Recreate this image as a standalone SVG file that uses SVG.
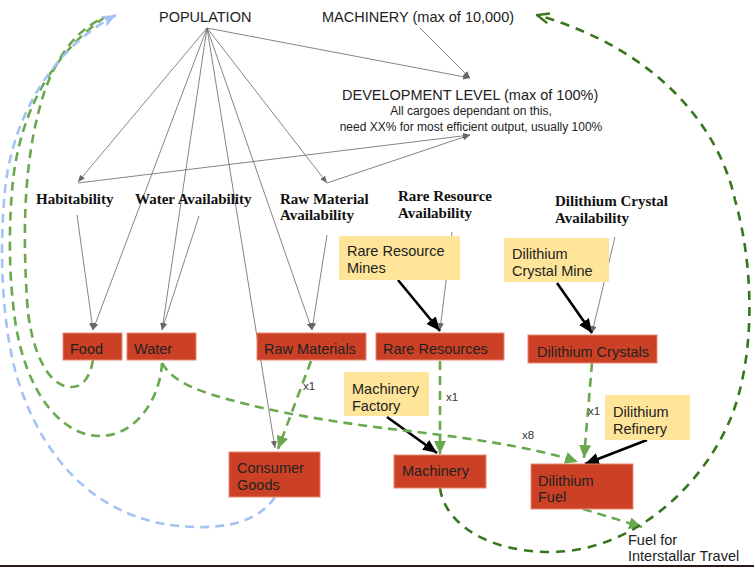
<svg xmlns="http://www.w3.org/2000/svg" width="754" height="568" viewBox="0 0 754 568">
<style>
text{font-family:"Liberation Sans",Arial,sans-serif;fill:#222;font-size:14.5px}
.lab{font-family:"Liberation Serif","Times New Roman",serif;font-weight:bold;font-size:15px;fill:#111}
.sm{font-size:12px}
.xl{font-size:11.5px;fill:#333}
.red{fill:#cc4125;stroke:#e58a74;stroke-width:1}
.yel{fill:#ffe599}
.gray{stroke:#666;stroke-width:0.8;fill:none;marker-end:url(#ga)}
.blk{stroke:#000;stroke-width:2.6;fill:none;marker-end:url(#ba)}
.gd{stroke:#6aa84f;stroke-width:2.6;fill:none;stroke-dasharray:9 6}
.dg{stroke:#38761d;stroke-width:2.6;fill:none;stroke-dasharray:9 7}
.bd{stroke:#a4c2f4;stroke-width:2.6;fill:none;stroke-dasharray:9 6}
</style>
<defs>
<marker id="ga" markerUnits="userSpaceOnUse" markerWidth="7" markerHeight="6" refX="7" refY="3" orient="auto"><path d="M0,0 L7,3 L0,6 z" fill="#666"/></marker>
<marker id="ba" markerUnits="userSpaceOnUse" markerWidth="14" markerHeight="12" refX="14" refY="6" orient="auto"><path d="M0,0 L14,6 L0,12 z" fill="#000"/></marker>
<marker id="gar" markerUnits="userSpaceOnUse" markerWidth="13" markerHeight="12" refX="13" refY="6" orient="auto"><path d="M0,0 L13,6 L0,12 z" fill="#6aa84f"/></marker>
<marker id="bar" markerUnits="userSpaceOnUse" markerWidth="14" markerHeight="12" refX="14" refY="6" orient="auto"><path d="M0,0 L14,6 L0,12 L3,6 z" fill="#a4c2f4"/></marker>
<marker id="dar" markerUnits="userSpaceOnUse" markerWidth="14" markerHeight="12" refX="13" refY="6" orient="auto"><path d="M1,1 L13,6 L1,11" fill="none" stroke="#38761d" stroke-width="2.4"/></marker>
</defs>

<g id="connectors">
<!-- gray influence lines -->
<path class="gray" d="M207,28 L78,182"/>
<path class="gray" d="M207,28 L93,330"/>
<path class="gray" d="M207,28 L162,330"/>
<path class="gray" d="M207,28 L275,448"/>
<path class="gray" d="M207,28 L312,330"/>
<path class="gray" d="M207,28 L327,183"/>
<path class="gray" d="M207,28 L470,78"/>
<path class="gray" d="M420,28 L470,78"/>
<path class="gray" d="M78,183 L470,135"/>
<path class="gray" d="M327,183 L470,135"/>
<path class="gray" d="M77,215 L93,330"/>
<path class="gray" d="M199,216 L162,330"/>
<path class="gray" d="M327,235 L312,330"/>
<path class="gray" d="M452,232 L440,330"/>
<path class="gray" d="M615,237 L592,333"/>
<!-- black production arrows -->
<path class="blk" d="M398,280 L440,331"/>
<path class="blk" d="M557,283 L592,333"/>
<path class="blk" d="M387,417 L437,453"/>
<path class="blk" d="M647,440 L585,464"/>
<!-- green flows -->
<path class="gd" d="M93,360 C90,378 82,388 70,387 C48,386 30,350 27,300 C22,220 25,150 45,90 C60,50 80,28 105,17"/>
<path class="gd" d="M162,363 C160,400 135,436 100,436 C60,436 25,390 15,320 C8,270 9,220 13,180 C20,120 45,60 105,17"/>
<path class="gd" d="M162,363 C172,380 190,387 210,394 C260,410 330,422 400,430 C460,437 530,446 578,462" marker-end="url(#gar)"/>
<path class="gd" d="M311,361 L278,449" marker-end="url(#gar)"/>
<path class="gd" d="M440,361 L440,454" marker-end="url(#gar)"/>
<path class="gd" d="M592,363 L584,458" marker-end="url(#gar)"/>
<path class="gd" d="M583,509 L642,527" marker-end="url(#gar)"/>
<path class="bd" d="M275,497 C260,520 230,528 195,527 C100,525 40,460 15,370 C0,310 0,240 5,190 C12,120 50,50 116,15" marker-end="url(#bar)"/>
<path class="dg" d="M440,488 C445,525 490,552 550,552 C630,552 700,490 730,420 C755,360 755,270 735,200 C720,130 660,50 537,15" marker-end="url(#dar)"/>
<text class="xl" x="303" y="390">x1</text>
<text class="xl" x="446" y="401">x1</text>
<text class="xl" x="588" y="415">x1</text>
<text class="xl" x="522" y="439">x8</text>
</g>

<g id="population"><text x="159" y="22">POPULATION</text></g>
<g id="machinery-cap"><text x="322" y="22">MACHINERY (max of 10,000)</text></g>
<g id="development">
<text x="342" y="100">DEVELOPMENT LEVEL (max of 100%)</text>
<text class="sm" x="471" y="115" text-anchor="middle">All cargoes dependant on this,</text>
<text class="sm" x="471" y="131" text-anchor="middle">need XX% for most efficient output, usually 100%</text>
</g>

<g id="habitability"><text class="lab" x="36" y="204">Habitability</text></g>
<g id="water-availability"><text class="lab" x="135" y="204">Water Availability</text></g>
<g id="raw-availability"><text class="lab" x="280" y="204">Raw Material</text><text class="lab" x="280" y="220">Availability</text></g>
<g id="rare-availability"><text class="lab" x="398" y="201">Rare Resource</text><text class="lab" x="398" y="218">Availability</text></g>
<g id="dilithium-availability"><text class="lab" x="555" y="206">Dilithium Crystal</text><text class="lab" x="555" y="223">Availability</text></g>

<g id="rare-mines"><rect class="yel" x="339" y="236" width="121" height="44"/><text x="347" y="256">Rare Resource</text><text x="347" y="273">Mines</text></g>
<g id="dilithium-mine"><rect class="yel" x="504" y="238" width="105" height="44"/><text x="512" y="259">Dilithium</text><text x="512" y="276">Crystal Mine</text></g>
<g id="machinery-factory"><rect class="yel" x="344" y="372" width="85" height="44"/><text x="352" y="394">Machinery</text><text x="352" y="411">Factory</text></g>
<g id="dilithium-refinery"><rect class="yel" x="605" y="395" width="85" height="45"/><text x="613" y="417">Dilithium</text><text x="613" y="434">Refinery</text></g>

<g id="food"><rect class="red" x="63" y="333" width="59" height="27"/><text x="70" y="354">Food</text></g>
<g id="water"><rect class="red" x="127" y="333" width="69" height="27"/><text x="134" y="354">Water</text></g>
<g id="raw-materials"><rect class="red" x="257" y="333" width="109" height="27"/><text x="264" y="354">Raw Materials</text></g>
<g id="rare-resources"><rect class="red" x="376" y="333" width="128" height="27"/><text x="383" y="354">Rare Resources</text></g>
<g id="dilithium-crystals"><rect class="red" x="528" y="335" width="129" height="28"/><text x="537" y="357">Dilithium Crystals</text></g>
<g id="consumer-goods"><rect class="red" x="229" y="452" width="91" height="45"/><text x="237" y="473">Consumer</text><text x="237" y="490">Goods</text></g>
<g id="machinery"><rect class="red" x="394" y="455" width="92" height="33"/><text x="402" y="476">Machinery</text></g>
<g id="dilithium-fuel"><rect class="red" x="531" y="464" width="102" height="45"/><text x="538" y="486">Dilithium</text><text x="538" y="502">Fuel</text></g>
<g id="fuel-output"><text x="628" y="545">Fuel for</text><text x="628" y="561">Interstallar Travel</text></g>

<rect x="0" y="565" width="754" height="2" fill="#2b1b17"/>
</svg>
